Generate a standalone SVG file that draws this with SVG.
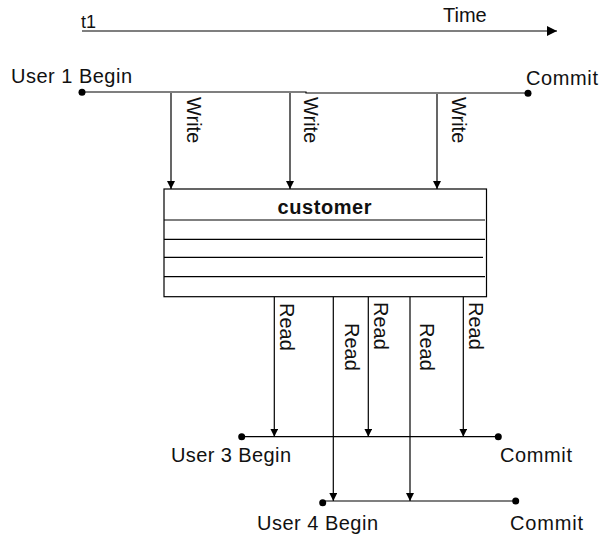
<svg xmlns="http://www.w3.org/2000/svg" width="600" height="537" viewBox="0 0 600 537">
<defs>
<style>
.ln{stroke:#000;stroke-width:1.2;fill:none}
.t{font-family:"Liberation Sans",Arial,sans-serif;font-size:20px;fill:#111}
.b{font-weight:bold;text-anchor:middle}
.dot{fill:#000}
</style>
<marker id="ah" viewBox="0 0 8 8" markerWidth="8" markerHeight="8" refX="8" refY="4" orient="auto" markerUnits="userSpaceOnUse">
<path d="M0,0 L8,4 L0,8 z" fill="#000"/>
</marker>
<marker id="ahT" viewBox="0 0 10 10" markerWidth="10" markerHeight="10" refX="10" refY="5" orient="auto" markerUnits="userSpaceOnUse">
<path d="M0,0 L10,5 L0,10 z" fill="#000"/>
</marker>
</defs>
<rect width="600" height="537" fill="#fff"/>

<g id="time-axis">
<text class="t" x="81" y="28" style="font-size:18px">t1</text>
<text class="t" x="443" y="22">Time</text>
<line class="ln" x1="82" y1="31" x2="557" y2="31" marker-end="url(#ahT)"/>
</g>

<g id="user1">
<text class="t" x="11" y="83" textLength="121" lengthAdjust="spacing">User 1 Begin</text>
<text class="t" x="526" y="85" textLength="72" lengthAdjust="spacing">Commit</text>
<path class="ln" d="M82,92 H306 V93 H528"/>
<circle class="dot" cx="82" cy="92.3" r="3.5"/>
<circle class="dot" cx="528" cy="93.3" r="3.5"/>
</g>

<g id="customer">
<rect class="ln" x="164" y="189" width="322.5" height="107.7"/>
<line class="ln" x1="164" y1="220" x2="485" y2="220"/>
<line class="ln" x1="164" y1="239.3" x2="485" y2="239.3"/>
<line class="ln" x1="164" y1="257.3" x2="483" y2="257.3"/>
<line class="ln" x1="164" y1="276.7" x2="485" y2="276.7"/>
<text class="t b" x="324.5" y="214" textLength="94" lengthAdjust="spacing">customer</text>
</g>

<g id="user3">
<line class="ln" x1="241.7" y1="436.7" x2="498.3" y2="436.7"/>
<circle class="dot" cx="241.7" cy="436.7" r="3.5"/>
<circle class="dot" cx="498.3" cy="436.7" r="3.5"/>
<text class="t" x="171" y="462" textLength="120" lengthAdjust="spacing">User 3 Begin</text>
<text class="t" x="500" y="462" textLength="72" lengthAdjust="spacing">Commit</text>
</g>

<g id="user4">
<line class="ln" x1="325" y1="501" x2="515.7" y2="501"/>
<circle class="dot" cx="322.7" cy="502.7" r="3.5"/>
<circle class="dot" cx="515.7" cy="501" r="3.5"/>
<text class="t" x="257" y="530" textLength="121" lengthAdjust="spacing">User 4 Begin</text>
<text class="t" x="510" y="530" textLength="73" lengthAdjust="spacing">Commit</text>
</g>

<g id="connectors">
<line class="ln" x1="171" y1="93" x2="171" y2="189" marker-end="url(#ah)"/>
<line class="ln" x1="290" y1="93" x2="290" y2="189" marker-end="url(#ah)"/>
<line class="ln" x1="437" y1="94" x2="437" y2="189" marker-end="url(#ah)"/>
<text class="t" transform="translate(187,97) rotate(90)">Write</text>
<text class="t" transform="translate(304,97) rotate(90)">Write</text>
<text class="t" transform="translate(452,97) rotate(90)">Write</text>

<line class="ln" x1="274.3" y1="297" x2="274.3" y2="436.7" marker-end="url(#ah)"/>
<line class="ln" x1="368.3" y1="297" x2="368.3" y2="436.7" marker-end="url(#ah)"/>
<line class="ln" x1="463.3" y1="297" x2="463.3" y2="436.7" marker-end="url(#ah)"/>
<line class="ln" x1="333.3" y1="297" x2="333.3" y2="501" marker-end="url(#ah)"/>
<line class="ln" x1="410" y1="297" x2="410" y2="501" marker-end="url(#ah)"/>
<text class="t" transform="translate(280,303) rotate(90)">Read</text>
<text class="t" transform="translate(345,323) rotate(90)">Read</text>
<text class="t" transform="translate(373.5,302) rotate(90)">Read</text>
<text class="t" transform="translate(420,323) rotate(90)">Read</text>
<text class="t" transform="translate(468.5,302) rotate(90)">Read</text>
</g>
</svg>
